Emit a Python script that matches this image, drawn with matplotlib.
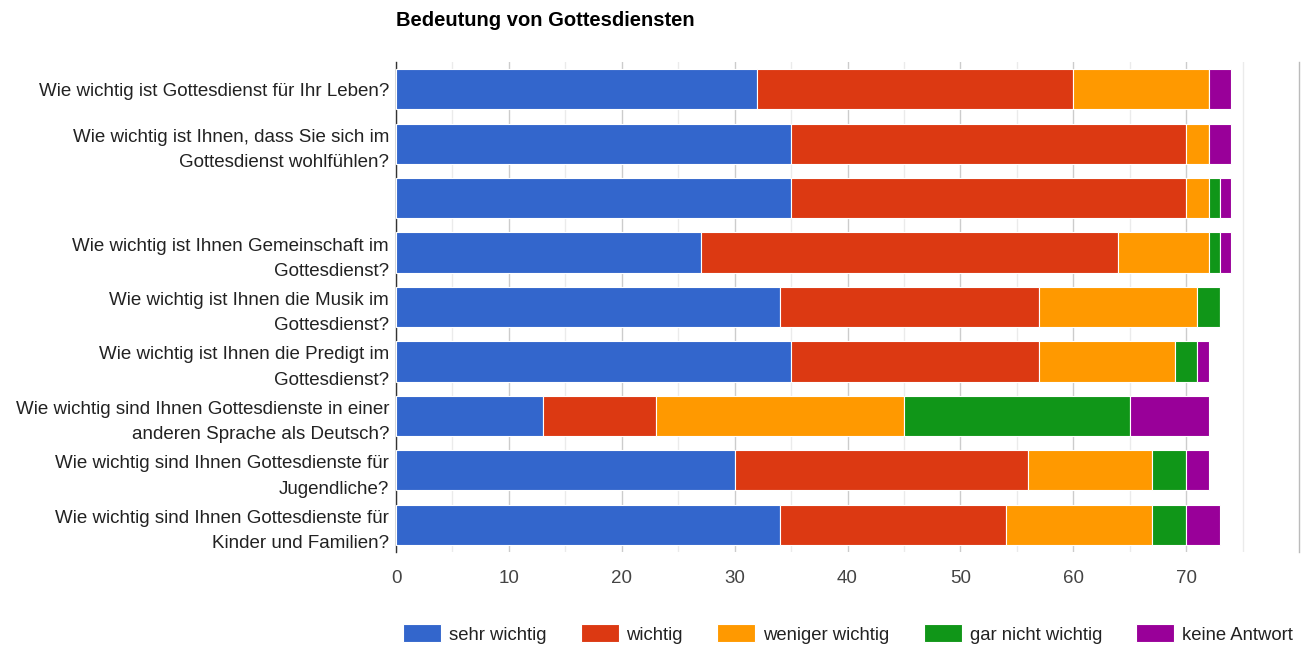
import matplotlib
matplotlib.use("Agg")
import matplotlib.pyplot as plt
import numpy as np

plt.rcParams['font.family'] = ['Liberation Sans', 'DejaVu Sans']

categories = [
    "Wie wichtig ist Gottesdienst für Ihr Leben?",
    "Wie wichtig ist Ihnen, dass Sie sich im\nGottesdienst wohlfühlen?",
    "",
    "Wie wichtig ist Ihnen Gemeinschaft im\nGottesdienst?",
    "Wie wichtig ist Ihnen die Musik im\nGottesdienst?",
    "Wie wichtig ist Ihnen die Predigt im\nGottesdienst?",
    "Wie wichtig sind Ihnen Gottesdienste in einer\nanderen Sprache als Deutsch?",
    "Wie wichtig sind Ihnen Gottesdienste für\nJugendliche?",
    "Wie wichtig sind Ihnen Gottesdienste für\nKinder und Familien?",
]
series_names = ["sehr wichtig", "wichtig", "weniger wichtig", "gar nicht wichtig", "keine Antwort"]
sehr_wichtig = [32, 35, 35, 27, 34, 35, 13, 30, 34]
wichtig = [28, 35, 35, 37, 23, 22, 10, 26, 20]
weniger_wichtig = [12, 2, 2, 8, 14, 12, 22, 11, 13]
gar_nicht_wichtig = [0, 0, 1, 1, 2, 2, 20, 3, 3]
keine_antwort = [2, 2, 1, 1, 0, 1, 7, 2, 3]
colors = ["#3366CC", "#DC3912", "#FF9900", "#109618", "#990099"]
title = "Bedeutung von Gottesdiensten"

series = [sehr_wichtig, wichtig, weniger_wichtig, gar_nicht_wichtig, keine_antwort]

fig = plt.figure(figsize=(13.04, 6.46), dpi=100)
ax = fig.add_axes([396/1304, 1-552/646, (1299-396)/1304, (552-62)/646])

y = np.arange(len(categories))
left = np.zeros(len(categories))
handles = []
for name, vals, c in zip(series_names, series, colors):
    vals = np.array(vals, dtype=float)
    b = ax.barh(y, vals, left=left, height=0.74, color=c, edgecolor='#ffffff',
                linewidth=0.8, label=name, zorder=3)
    handles.append(b)
    left += vals

ax.set_ylim(len(categories) - 0.5, -0.5)
ax.set_xlim(0, 80)
ax.set_xticks([0, 10, 20, 30, 40, 50, 60, 70])
ax.set_xticks([5, 15, 25, 35, 45, 55, 65, 75], minor=True)
ax.set_yticks(y)
ax.set_yticklabels(categories, fontsize=13.5, color='#222222', linespacing=1.65)
ax.tick_params(axis='y', length=0, pad=5)
ax.tick_params(axis='x', which='both', length=0, pad=13, labelsize=13.5, labelcolor='#444444')
ax.grid(axis='x', which='major', color='#cccccc', linewidth=1, zorder=0)
ax.grid(axis='x', which='minor', color='#ebebeb', linewidth=1, zorder=0)
for s in ['top', 'bottom']:
    ax.spines[s].set_visible(False)
ax.spines['left'].set_color('#333333')
ax.spines['left'].set_linewidth(1)
ax.spines['right'].set_color('#bbbbbb')
ax.spines['right'].set_linewidth(1)

fig.text(396/1304, 1-20/646, title, fontsize=14.5, fontweight='bold', ha='left', va='center', color='#000000')

leg = fig.legend(handles=handles, labels=series_names, loc='center', ncol=5,
                 bbox_to_anchor=(848/1304, 1-634/646), frameon=False, fontsize=13.3,
                 handlelength=2.05, handleheight=1.08, handletextpad=0.43, columnspacing=1.86,
                 borderaxespad=0, borderpad=0)
for t in leg.get_texts():
    t.set_color('#222222')

fig.savefig("out.png", dpi=100)
